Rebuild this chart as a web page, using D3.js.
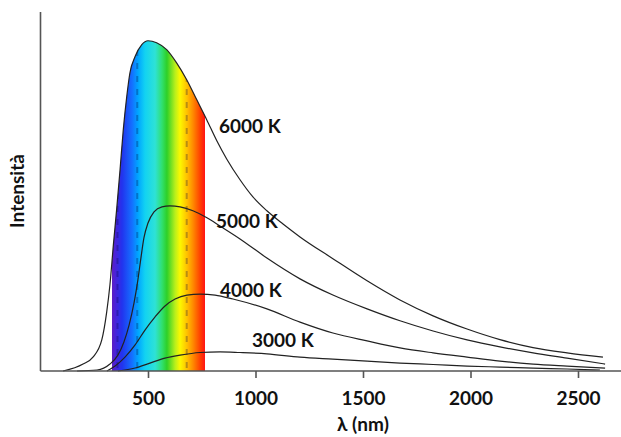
<!DOCTYPE html>
<html lang="it">
  <head>
    <meta charset="UTF-8">
    <title>Corpo nero</title>
    <script src="https://cdn.jsdelivr.net/npm/d3@7"></script>
    <style>
      body { margin: 0; background: #fff; }
      text { font-family: Lato, "Open Sans", "DejaVu Sans", sans-serif; font-weight: 700; fill: #111; }
      .curve { fill: none; stroke: #222; stroke-width: 1.2; }
      .axis-line { stroke: #555; stroke-width: 1.6; }
    </style>
  </head>
  <body>
    <svg id="chart"></svg>

    <script>
      // wavelength (nm) / relative intensity
      var lambda6000 = [105, 198, 244, 285, 308, 323, 339, 354, 370, 385, 401, 416, 440, 471, 500, 540, 587, 633, 680, 727, 773, 820, 866, 928, 988, 1053, 1128, 1207, 1360, 1519, 1672, 1826, 1984, 2137, 2291, 2449, 2616];
      var int6000    = [0, 2.1, 4.2, 9.4, 17.9, 26.1, 38.2, 48.8, 60.9, 73.0, 83.0, 90.3, 95.2, 98.8, 100, 99.4, 97.3, 93.3, 88.2, 82.1, 76.1, 69.7, 64.2, 57.9, 52.7, 48.5, 44.5, 40.6, 34.0, 27.3, 21.5, 16.7, 12.7, 9.5, 7.1, 5.5, 4.2];

      var lambda5000 = [170, 263, 323, 360, 388, 412, 435, 453, 467, 481, 500, 528, 565, 602, 649, 709, 774, 835, 928, 1053, 1207, 1360, 1519, 1672, 1826, 1984, 2137, 2291, 2449, 2626];
      var int5000    = [0, 0.3, 2.1, 4.8, 8.8, 13.9, 20.6, 27.6, 34.2, 40.3, 44.8, 48.2, 49.7, 50.0, 49.7, 48.5, 46.4, 43.9, 40.0, 34.2, 27.9, 23.0, 18.8, 15.2, 12.1, 9.4, 7.3, 5.5, 3.9, 2.1];

      var lambda4000 = [309, 347, 393, 440, 486, 533, 579, 626, 681, 742, 812, 895, 1053, 1207, 1360, 1519, 1672, 1826, 1984, 2137, 2291, 2449, 2626];
      var int4000    = [0, 1.5, 4.2, 7.9, 12.4, 16.4, 19.7, 21.8, 23.0, 23.3, 23.0, 21.8, 18.8, 14.8, 11.5, 9.1, 7.0, 5.5, 4.2, 3.0, 2.1, 1.5, 0.9];

      var lambda3000 = [360, 440, 509, 579, 649, 742, 835, 928, 1053, 1207, 1360, 1519, 1672, 1826, 1984, 2137, 2291, 2449, 2602];
      var int3000    = [0, 0.9, 2.4, 3.9, 4.8, 5.6, 5.8, 5.6, 5.2, 4.2, 3.6, 3.0, 2.4, 1.97, 1.5, 1.2, 0.9, 0.6, 0.3];

      var curveNames = ["6000 K", "5000 K", "4000 K", "3000 K"];
      // label anchor (left edge, vertical middle) in data units
      var labelLambda = [830, 816, 835, 984];
      var labelInt    = [74.2, 45.5, 24.5, 9.4];

      var xTicks = [500, 1000, 1500, 2000, 2500];

      // visible band
      var bandStart = 333, bandEnd = 765;
      var bandStops  = [323, 347, 379, 426, 453, 486, 533, 565, 588, 626, 649, 681, 709, 742, 765];
      var bandColors = ["#6a1cb0", "#4a22d8", "#2233ee", "#1470ff", "#00a4ff", "#12d2f2", "#2ee2d6", "#30e070", "#2ed028", "#b8ef1c", "#fcf800", "#ffc200", "#ff8a00", "#ff4200", "#ff1414"];
      var bandDashes = [358, 450, 680];

      var width = 621, height = 437;
      var svg = d3.select("#chart").attr("width", width).attr("height", height);

      var x = d3.scaleLinear().domain([0, 2700]).range([40.5, 621]);
      var y = d3.scaleLinear().domain([0, 109]).range([371, 11]);

      var series = [
        { name: curveNames[0], pts: d3.zip(lambda6000, int6000) },
        { name: curveNames[1], pts: d3.zip(lambda5000, int5000) },
        { name: curveNames[2], pts: d3.zip(lambda4000, int4000) },
        { name: curveNames[3], pts: d3.zip(lambda3000, int3000) }
      ];

      var defs = svg.append("defs");
      var grad = defs.append("linearGradient")
          .attr("id", "spectrum")
          .attr("gradientUnits", "userSpaceOnUse")
          .attr("x1", x(bandStops[0])).attr("x2", x(bandStops[bandStops.length - 1]))
          .attr("y1", 0).attr("y2", 0);
      grad.selectAll("stop")
        .data(bandStops)
        .enter().append("stop")
          .attr("offset", function(d) { return (d - bandStops[0]) / (bandStops[bandStops.length - 1] - bandStops[0]); })
          .attr("stop-color", function(d, i) { return bandColors[i]; });

      defs.append("clipPath").attr("id", "bandclip")
        .append("rect")
          .attr("x", x(bandStart)).attr("width", x(bandEnd) - x(bandStart))
          .attr("y", y.range()[1]).attr("height", y(0) - y.range()[1]);

      var line = d3.line()
          .x(function(d) { return x(d[0]); })
          .y(function(d) { return y(d[1]); })
          .curve(d3.curveMonotoneX);

      var area = d3.area()
          .x(function(d) { return x(d[0]); })
          .y0(y(0))
          .y1(function(d) { return y(d[1]); })
          .curve(d3.curveMonotoneX);

      defs.append("clipPath").attr("id", "underclip")
        .append("path").attr("d", area(series[0].pts));

      var band = svg.append("g").attr("clip-path", "url(#bandclip)");
      band.append("path")
          .attr("d", area(series[0].pts))
          .attr("fill", "url(#spectrum)");

      band.append("g").attr("clip-path", "url(#underclip)")
        .selectAll("line")
        .data(bandDashes)
        .enter().append("line")
          .attr("x1", function(d) { return x(d); }).attr("x2", function(d) { return x(d); })
          .attr("y1", y.range()[1]).attr("y2", y(0))
          .attr("stroke", "rgba(0,0,60,0.28)")
          .attr("stroke-width", 2)
          .attr("stroke-dasharray", "6,7");

      svg.selectAll(".curve")
        .data(series)
        .enter().append("path")
          .attr("class", "curve")
          .attr("d", function(d) { return line(d.pts); });

      // axes
      svg.append("line").attr("class", "axis-line")
          .attr("x1", x(0)).attr("x2", x(0))
          .attr("y1", 12).attr("y2", y(0));

      var xAxis = d3.axisBottom(x).tickValues(xTicks).tickFormat(d3.format("d")).tickSize(7).tickPadding(14);
      var gx = svg.append("g")
          .attr("transform", "translate(0," + y(0) + ")")
          .call(xAxis);
      gx.select(".domain").attr("d", "M" + x(0) + ",0H" + width).attr("stroke", "#555").attr("stroke-width", 1.6);
      gx.selectAll(".tick line").attr("stroke", "#555").attr("stroke-width", 1.6);
      gx.selectAll(".tick text")
          .attr("font-family", null).attr("font-size", 19).attr("fill", "#111");

      svg.append("text")
          .attr("x", x(1500)).attr("y", 431)
          .attr("text-anchor", "middle")
          .attr("font-size", 19)
          .text("λ (nm)");

      svg.append("text")
          .attr("transform", "translate(24,191) rotate(-90)")
          .attr("text-anchor", "middle")
          .attr("font-size", 19)
          .text("Intensità");

      svg.selectAll(".clabel")
        .data(curveNames)
        .enter().append("text")
          .attr("class", "clabel")
          .attr("x", function(d, i) { return x(labelLambda[i]); })
          .attr("y", function(d, i) { return y(labelInt[i]); })
          .attr("dy", "0.36em")
          .attr("font-size", 19)
          .text(function(d) { return d; });
    </script>
  </body>
</html>
